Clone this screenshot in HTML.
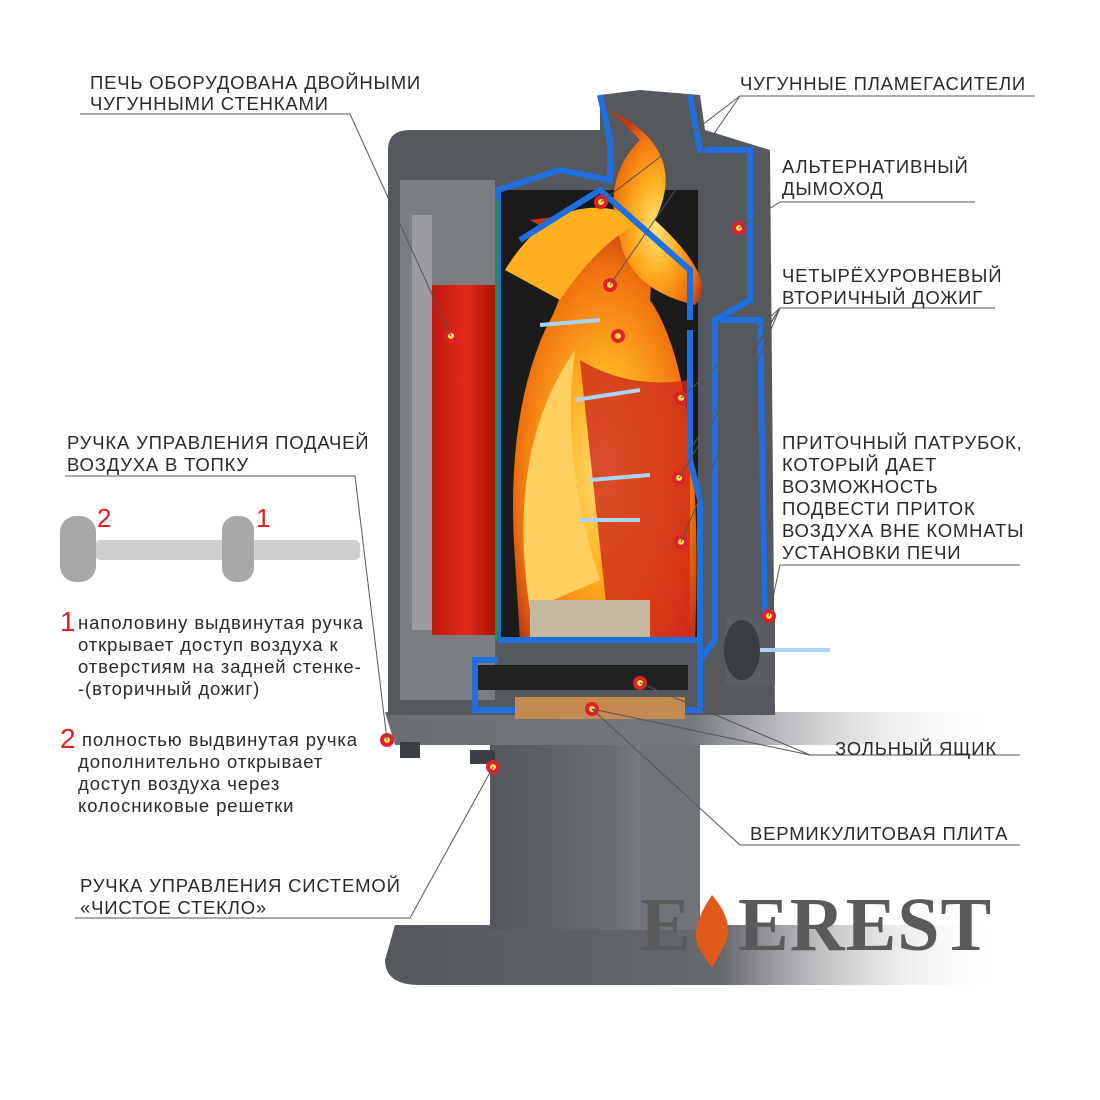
<!DOCTYPE html>
<html><head><meta charset="utf-8"><style>
body{margin:0;background:#fff}
svg{display:block}
text{font-family:"Liberation Sans",sans-serif;fill:#2a2a2a}
</style></head><body>
<svg width="1100" height="1100" viewBox="0 0 1100 1100">
<defs>
<linearGradient id="fadeR" x1="0" x2="1"><stop offset="0" stop-color="#55585d"/><stop offset="0.55" stop-color="#65686d"/><stop offset="1" stop-color="#fff" stop-opacity="0"/></linearGradient>
<linearGradient id="plate" x1="0" x2="1"><stop offset="0" stop-color="#6b6e73"/><stop offset="0.5" stop-color="#75787d"/><stop offset="1" stop-color="#fff" stop-opacity="0"/></linearGradient>
<radialGradient id="fire" cx="0.5" cy="0.6" r="0.6"><stop offset="0" stop-color="#ffe27a"/><stop offset="0.4" stop-color="#ffb020"/><stop offset="0.8" stop-color="#f07010"/><stop offset="1" stop-color="#c03a10"/></radialGradient>
<linearGradient id="redwall" x1="0" x2="1"><stop offset="0" stop-color="#c01a10"/><stop offset="0.5" stop-color="#e02a18"/><stop offset="1" stop-color="#a01008"/></linearGradient>
<linearGradient id="col" x1="0" x2="1"><stop offset="0" stop-color="#54575c"/><stop offset="0.6" stop-color="#6a6d72"/><stop offset="1" stop-color="#9a9ca0"/></linearGradient>
</defs>

<path d="M395 925 L1000 925 L1000 985 L420 985 Q385 985 385 960 Z" fill="url(#fadeR)"/>
<rect x="490" y="745" width="210" height="185" fill="url(#col)"/>
<rect x="640" y="745" width="60" height="185" fill="#707378"/>
<path d="M385 712 L1000 712 L1000 745 L395 745 Z" fill="url(#plate)"/>
<rect x="400" y="742" width="20" height="16" fill="#3c3f44"/>
<rect x="470" y="750" width="25" height="14" fill="#3c3f44"/>

<path d="M388 150 Q388 130 410 130 L600 130 L600 95 L640 90 L700 95 L705 130 L770 150 L775 715 L388 715 Z" fill="#55585d"/>
<rect x="400" y="180" width="95" height="520" fill="#7a7d82"/>
<rect x="412" y="215" width="20" height="415" fill="#9a9ca0"/>
<rect x="432" y="285" width="68" height="350" fill="url(#redwall)"/>
<rect x="498" y="190" width="200" height="450" fill="#1b1b1b"/>
<path d="M520 640 L515 560 Q505 420 545 330 Q590 250 530 220 Q660 200 650 300 Q705 380 695 640 Z" fill="url(#fire)"/>
<path d="M580 360 Q630 390 690 380 L690 640 L610 640 Z" fill="#d0281a" opacity="0.8"/>
<path d="M530 610 Q505 450 575 350 Q560 460 600 580 Z" fill="#ffd060"/>
<path d="M610 110 Q690 150 655 220 Q720 280 695 305 Q630 290 620 240 Q600 180 640 140 Z" fill="url(#fire)"/>
<path d="M505 270 Q560 180 645 220 Q600 240 560 300 Z" fill="#ffb020"/>
<rect x="530" y="600" width="120" height="40" fill="#c8b8a0"/>
<g fill="none" stroke="#1e6fe0" stroke-width="6">
<path d="M498 640 L498 190 L560 170 L610 180 L610 140 L600 95"/>
<path d="M690 95 L700 150 L750 150 L750 300 L715 320 L715 640 L700 660"/>
<path d="M520 240 L600 190 L690 270 L690 320"/>
<path d="M690 330 L690 460 L700 500 L700 640"/>
<path d="M498 640 L700 640 L700 710 L475 710 L475 660 L498 660"/>
<path d="M720 320 L760 320 L765 620 L740 630"/>
</g>
<rect x="515" y="697" width="170" height="22" fill="#c48a52"/>
<rect x="478" y="665" width="210" height="25" fill="#222"/>
<rect x="725" y="615" width="50" height="70" fill="#5a5d62"/>
<ellipse cx="742" cy="650" rx="18" ry="30" fill="#3a3d42"/>
<line x1="497" y1="200" x2="497" y2="640" stroke="#2a8a4a" stroke-width="3"/>
<g stroke="#a9d4f5" stroke-width="4" fill="none">
<path d="M760 650 L830 650"/><path d="M575 400 L640 390"/><path d="M590 480 L650 475"/><path d="M580 520 L640 520"/><path d="M540 325 L600 320"/>
</g>
<g fill="#f5e14a" stroke="#e0202a" stroke-width="4">
<circle cx="451" cy="336" r="5"/><circle cx="601" cy="202" r="5"/><circle cx="610" cy="285" r="5"/><circle cx="618" cy="336" r="5"/><circle cx="739" cy="228" r="5"/><circle cx="681" cy="398" r="5"/><circle cx="679" cy="478" r="5"/><circle cx="681" cy="542" r="5"/><circle cx="769" cy="616" r="5"/><circle cx="640" cy="683" r="5"/><circle cx="592" cy="709" r="5"/><circle cx="387" cy="740" r="5"/><circle cx="493" cy="767" r="5"/>
</g>

<g stroke="#555" stroke-width="1" fill="none">
<path d="M80 114 L350 114 L451 336"/>
<path d="M1035 96 L740 96 L610 285"/><path d="M740 96 L601 202"/>
<path d="M975 202 L780 202 L739 228"/>
<path d="M995 308 L780 308 L681 398"/><path d="M780 308 L679 478"/><path d="M780 308 L681 542"/><path d="M780 308 L690 450"/>
<path d="M1020 565 L780 565 L769 616"/>
<path d="M1020 755 L810 755 L640 683"/><path d="M810 755 L592 709"/>
<path d="M1020 845 L740 845 L592 709"/>
<path d="M65 476 L355 476 L387 740"/>
<path d="M75 918 L410 918 L493 767"/>
</g>

<rect x="95" y="540" width="265" height="20" rx="5" fill="#cfcfcf"/>
<rect x="60" y="516" width="36" height="66" rx="16" fill="#a8a8a8"/>
<rect x="222" y="516" width="32" height="66" rx="14" fill="#a8a8a8"/>
<text x="97" y="527" font-size="26" style="fill:#e02020">2</text>
<text x="256" y="527" font-size="26" style="fill:#e02020">1</text>

<g font-size="18.5" letter-spacing="0.8">
<text x="90" y="89">ПЕЧЬ ОБОРУДОВАНА ДВОЙНЫМИ</text>
<text x="90" y="110">ЧУГУННЫМИ СТЕНКАМИ</text>
<text x="740" y="90">ЧУГУННЫЕ ПЛАМЕГАСИТЕЛИ</text>
<text x="782" y="173">АЛЬТЕРНАТИВНЫЙ</text>
<text x="782" y="195">ДЫМОХОД</text>
<text x="782" y="282">ЧЕТЫРЁХУРОВНЕВЫЙ</text>
<text x="782" y="304">ВТОРИЧНЫЙ ДОЖИГ</text>
<text x="782" y="449">ПРИТОЧНЫЙ ПАТРУБОК,</text>
<text x="782" y="471">КОТОРЫЙ ДАЕТ</text>
<text x="782" y="493">ВОЗМОЖНОСТЬ</text>
<text x="782" y="515">ПОДВЕСТИ ПРИТОК</text>
<text x="782" y="537">ВОЗДУХА ВНЕ КОМНАТЫ</text>
<text x="782" y="559">УСТАНОВКИ ПЕЧИ</text>
<text x="835" y="755">ЗОЛЬНЫЙ ЯЩИК</text>
<text x="750" y="840">ВЕРМИКУЛИТОВАЯ ПЛИТА</text>
<text x="67" y="449">РУЧКА УПРАВЛЕНИЯ ПОДАЧЕЙ</text>
<text x="67" y="471">ВОЗДУХА В ТОПКУ</text>
<text x="80" y="892">РУЧКА УПРАВЛЕНИЯ СИСТЕМОЙ</text>
<text x="80" y="914">«ЧИСТОЕ СТЕКЛО»</text>
</g>
<g font-size="18.5" letter-spacing="0.9">
<text x="60" y="631" font-size="28" style="fill:#e02020">1</text>
<text x="78" y="629">наполовину выдвинутая ручка</text>
<text x="78" y="651">открывает доступ воздуха к</text>
<text x="78" y="673">отверстиям на задней стенке-</text>
<text x="78" y="695">-(вторичный дожиг)</text>
<text x="60" y="748" font-size="28" style="fill:#e02020">2</text>
<text x="82" y="746">полностью выдвинутая ручка</text>
<text x="78" y="768">дополнительно открывает</text>
<text x="78" y="790">доступ воздуха через</text>
<text x="78" y="812">колосниковые решетки</text>
</g>
<text x="640" y="950" font-size="76" style="fill:#5a5a5a;font-family:'Liberation Serif',serif;font-weight:bold">E</text>
<text x="738" y="950" font-size="76" style="fill:#5a5a5a;font-family:'Liberation Serif',serif;font-weight:bold" letter-spacing="1">EREST</text>
<path d="M712 895 Q688 930 700 950 L712 968 L722 950 Q738 925 712 895 Z" fill="#e05a1a"/>
</svg>
</body></html>
